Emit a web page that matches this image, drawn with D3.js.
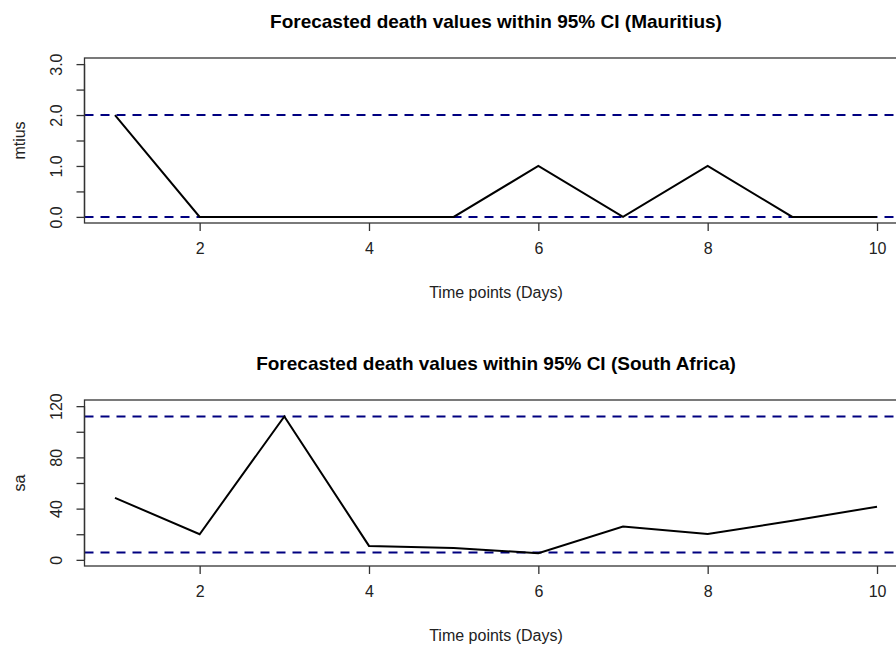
<!DOCTYPE html>
<html><head><meta charset="utf-8">
<script src="https://cdn.jsdelivr.net/npm/d3@7"></script>
<style>
body{margin:0;background:#fff;}
svg{display:block;font-family:"Liberation Sans",Arial,sans-serif;}
</style></head>
<body><svg id="c" width="896" height="646"></svg>
<script>
const days = [1,2,3,4,5,6,7,8,9,10];
const mauritius = [2,0,0,0,0,1,0,1,0,0];
const mauritiusCI = [0,2];
const southAfrica = [48.4,20,112,10.9,9.2,5.2,26,20.2,30.5,41.5];
const southAfricaCI = [5.7,112];
const xTicks = [2,4,6,8,10];
const mTicks = [0,0.5,1,1.5,2,2.5,3];
const mLabels = [0,1,2,3];
const saTicks = [0,20,40,60,80,100,120];
const saLabels = [0,40,80,120];

const svg = d3.select("#c");
const x = d3.scaleLinear().domain([0.64,10.36]).range([84.5,907.5]);
const FONT = "Liberation Sans, Arial, sans-serif";

function panel(cfg){
  const g = svg.append("g");
  const y = d3.scaleLinear().domain(cfg.domain).range([cfg.bottom,cfg.top]);
  g.append("text").attr("x",496).attr("y",cfg.top-30).attr("text-anchor","middle")
    .attr("font-weight","bold").attr("font-size",19).attr("fill","#000").text(cfg.title);
  g.selectAll("line.ci").data(cfg.ci).enter().append("line")
    .attr("x1",x.range()[0]).attr("x2",x.range()[1])
    .attr("y1",d=>y(d)).attr("y2",d=>y(d))
    .attr("stroke","#000080").attr("stroke-width",2).attr("stroke-dasharray","9,7");
  g.append("path").datum(days.map((d,i)=>[d,cfg.values[i]]))
    .attr("d",d3.line().x(d=>x(d[0])).y(d=>y(d[1])))
    .attr("fill","none").attr("stroke","#000").attr("stroke-width",2);
  g.append("rect").attr("x",x.range()[0]).attr("y",cfg.top)
    .attr("width",x.range()[1]-x.range()[0]).attr("height",cfg.bottom-cfg.top)
    .attr("fill","none").attr("stroke","#333").attr("stroke-width",1.3);
  const xa = g.append("g").attr("transform",`translate(0,${cfg.bottom})`)
    .call(d3.axisBottom(x).tickValues(xTicks).tickSize(8).tickPadding(12).tickFormat(d3.format("d")));
  xa.select(".domain").remove();
  xa.selectAll("line").attr("stroke","#333").attr("stroke-width",1.3);
  xa.selectAll("text").attr("font-size",16).attr("fill","#222").attr("font-family",FONT);
  const ya = g.append("g").attr("transform",`translate(${x.range()[0]},0)`)
    .call(d3.axisLeft(y).tickValues(cfg.ticks).tickSize(8)
      .tickFormat(d=>cfg.labels.includes(d)?cfg.fmt(d):""));
  ya.select(".domain").attr("d",`M0,${y(cfg.ticks[0])}V${y(cfg.ticks[cfg.ticks.length-1])}`).attr("stroke","#333").attr("stroke-width",1.3);
  ya.selectAll("line").attr("stroke","#333").attr("stroke-width",1.3);
  ya.selectAll(".tick text").attr("font-size",16).attr("fill","#222").attr("font-family",FONT)
    .attr("transform","rotate(-90)").attr("x",0).attr("y",-28).attr("dy","0.35em")
    .attr("text-anchor","middle");
  g.append("text").attr("x",496).attr("y",cfg.bottom+75).attr("text-anchor","middle")
    .attr("font-size",16).attr("fill","#222").text("Time points (Days)");
  g.append("text").attr("transform",`translate(25,${(cfg.top+cfg.bottom)/2}) rotate(-90)`)
    .attr("text-anchor","middle").attr("font-size",16).attr("fill","#222").text(cfg.ylab);
}

panel({title:"Forecasted death values within 95% CI (Mauritius)",domain:[-0.12,3.12],top:58,bottom:223,
  values:mauritius,ci:mauritiusCI,ticks:mTicks,labels:mLabels,fmt:d3.format(".1f"),ylab:"mtius"});
panel({title:"Forecasted death values within 95% CI (South Africa)",domain:[-4.8,124.8],top:400,bottom:566,
  values:southAfrica,ci:southAfricaCI,ticks:saTicks,labels:saLabels,fmt:d3.format("d"),ylab:"sa"});
</script></body></html>
